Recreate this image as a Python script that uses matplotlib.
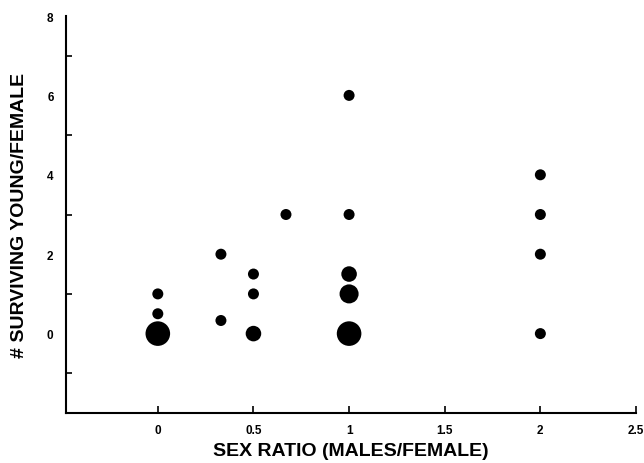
import matplotlib
matplotlib.use("Agg")
import matplotlib.pyplot as plt
from matplotlib.ticker import FixedLocator

plt.rcParams['font.family'] = ['Liberation Sans', 'DejaVu Sans']

# data
sex_ratio = [0, 0, 0, 0.33, 0.33, 0.5, 0.5, 0.5, 0.67, 1, 1, 1, 1, 1, 2, 2, 2, 2]
young = [0, 0.5, 1, 0.33, 2, 0, 1, 1.5, 3, 0, 1, 1.5, 3, 6, 0, 2, 3, 4]
n_females = [5, 1, 1, 1, 1, 2, 1, 1, 1, 5, 3, 2, 1, 1, 1, 1, 1, 1]

x_ticks = [0, 0.5, 1, 1.5, 2, 2.5]
x_ticklabels = ["0", "0.5", "1", "1.5", "2", "2.5"]
y_ticks = [0, 2, 4, 6, 8]
y_ticklabels = ["0", "2", "4", "6", "8"]
y_minor = [-1, 1, 3, 5, 7]

fig = plt.figure(figsize=(6.44, 4.64), dpi=100)
ax = fig.add_axes([66/644, 50/464, 570/644, 397/464])

unit = (11 * 0.72) ** 2
ax.scatter(sex_ratio, young, s=[c * unit for c in n_females], color='black',
           edgecolors='none', zorder=3, clip_on=False)

ax.set_xlim(-0.48, 2.5)
ax.set_ylim(-2, 8)

for s in ['top', 'right']:
    ax.spines[s].set_visible(False)
for s in ['left', 'bottom']:
    ax.spines[s].set_linewidth(1.5)

ax.set_xticks(x_ticks)
ax.set_xticklabels(x_ticklabels, fontsize=8.5, fontweight='bold')
ax.set_yticks(y_ticks)
ax.set_yticklabels(y_ticklabels, fontsize=8.5, fontweight='bold')
ax.yaxis.set_minor_locator(FixedLocator(y_minor))

ax.tick_params(axis='x', direction='in', length=5, width=1.2, pad=8)
ax.tick_params(axis='y', which='major', length=0, pad=9)
ax.tick_params(axis='y', which='minor', direction='in', length=4, width=1.2)

ax.set_xlabel("SEX RATIO (MALES/FEMALE)", fontsize=14, fontweight='bold')
ax.xaxis.set_label_coords(0.5, -0.072)
ax.set_ylabel("# SURVIVING YOUNG/FEMALE", fontsize=14, fontweight='bold')
ax.yaxis.set_label_coords(-0.066, 0.5)

fig.savefig("out.png", dpi=100)
